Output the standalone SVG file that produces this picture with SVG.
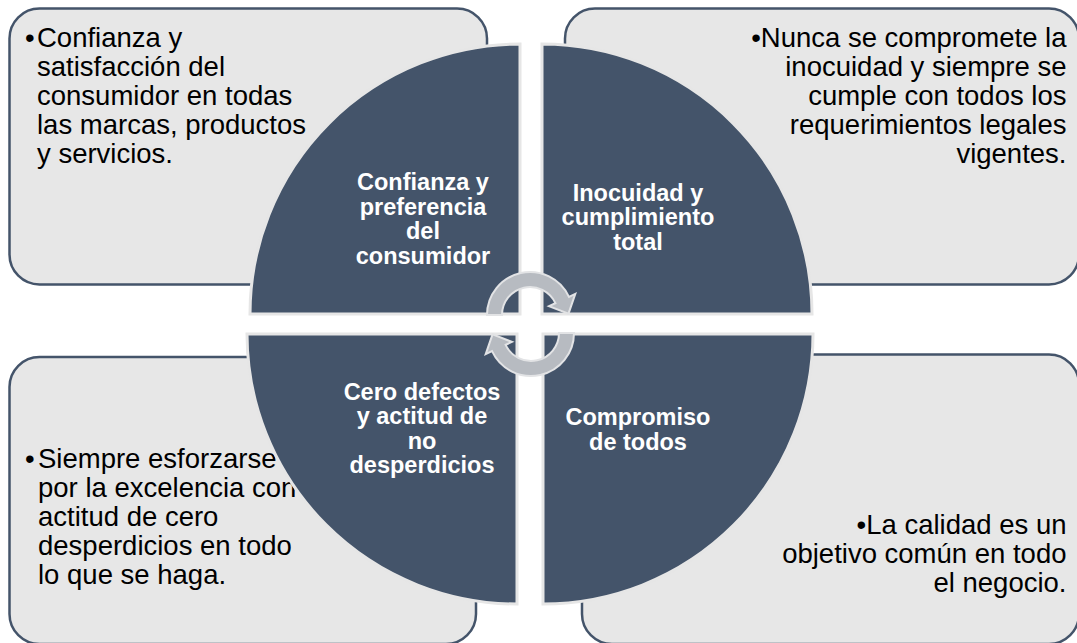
<svg xmlns="http://www.w3.org/2000/svg" width="1077" height="643" viewBox="0 0 1077 643">
<style>
.box{fill:#E7E7E7;stroke:#44546A;stroke-width:2.5}
.q{fill:#44546A;stroke:#E6E6E6;stroke-width:3}
.t{font-family:"Liberation Sans",Arial,sans-serif;font-size:27.5px;fill:#000}
.r{text-anchor:end}
.l{font-family:"Liberation Sans",Arial,sans-serif;font-size:23.5px;font-weight:bold;fill:#fff;text-anchor:middle}
.arr{fill:#B7BBC1;stroke:#E2E3E5;stroke-width:2}
</style>
<defs>
<path id="carrow" d="M 487 315 A 43 43 0 0 1 568.97 296.83 L 575.3 293.87 L 568.5 313.6 L 549.03 306.13 L 555.38 303.17 A 28 28 0 0 0 502 315 Z"/>
</defs>
<rect width="1077" height="643" fill="#fff"/>
<g id="box-tl">
<rect class="box" x="9.5" y="8.5" width="477.5" height="276" rx="30"/>
<text class="t" x="25" y="47">•</text>
<text class="t" x="37" y="47">Confianza y</text>
<text class="t" x="37" y="76">satisfacción del</text>
<text class="t" x="37" y="105">consumidor en todas</text>
<text class="t" x="37" y="134">las marcas, productos</text>
<text class="t" x="37" y="163">y servicios.</text>
</g>
<g id="box-tr">
<rect class="box" x="565" y="8.5" width="514" height="276" rx="30"/>
<text class="t r" x="1066.5" y="47">•Nunca se compromete la</text>
<text class="t r" x="1066.5" y="76">inocuidad y siempre se</text>
<text class="t r" x="1066.5" y="105">cumple con todos los</text>
<text class="t r" x="1066.5" y="134">requerimientos legales</text>
<text class="t r" x="1066.5" y="163">vigentes.</text>
</g>
<g id="box-bl">
<rect class="box" x="9.5" y="357" width="466.5" height="287" rx="30"/>
<text class="t" x="25" y="467.5">•</text>
<text class="t" x="38" y="467.5">Siempre esforzarse</text>
<text class="t" x="38" y="496.5">por la excelencia con</text>
<text class="t" x="38" y="525.5">actitud de cero</text>
<text class="t" x="38" y="554.5">desperdicios en todo</text>
<text class="t" x="38" y="583.5">lo que se haga.</text>
</g>
<g id="box-br">
<rect class="box" x="582" y="354.5" width="497" height="289.5" rx="30"/>
<text class="t r" x="1066.5" y="534">•La calidad es un</text>
<text class="t r" x="1066.5" y="563">objetivo común en todo</text>
<text class="t r" x="1066.5" y="592">el negocio.</text>
</g>
<g id="q-tl">
<path class="q" d="M 520 314 L 250 314 A 270 270 0 0 1 520 44 Z"/>
<text class="l" x="423" y="190">Confianza y</text>
<text class="l" x="423" y="214.7">preferencia</text>
<text class="l" x="423" y="239.4">del</text>
<text class="l" x="423" y="264">consumidor</text>
</g>
<g id="q-tr">
<path class="q" d="M 542 314 L 542 44 A 270 270 0 0 1 812 314 Z"/>
<text class="l" x="638" y="200.5">Inocuidad y</text>
<text class="l" x="638" y="225.2">cumplimiento</text>
<text class="l" x="638" y="250">total</text>
</g>
<g id="q-bl">
<path class="q" d="M 517 334 L 517 604 A 270 270 0 0 1 247 334 Z"/>
<text class="l" x="422" y="399.5">Cero defectos</text>
<text class="l" x="422" y="424">y actitud de</text>
<text class="l" x="422" y="448.5">no</text>
<text class="l" x="422" y="473">desperdicios</text>
</g>
<g id="q-br">
<path class="q" d="M 543 334 L 813 334 A 270 270 0 0 1 543 604 Z"/>
<text class="l" x="638" y="425">Compromiso</text>
<text class="l" x="638" y="449.5">de todos</text>
</g>
<g id="connectors">
<use href="#carrow" class="arr"/>
<use href="#carrow" class="arr" transform="rotate(180 530.5 324)"/>
</g>
</svg>
